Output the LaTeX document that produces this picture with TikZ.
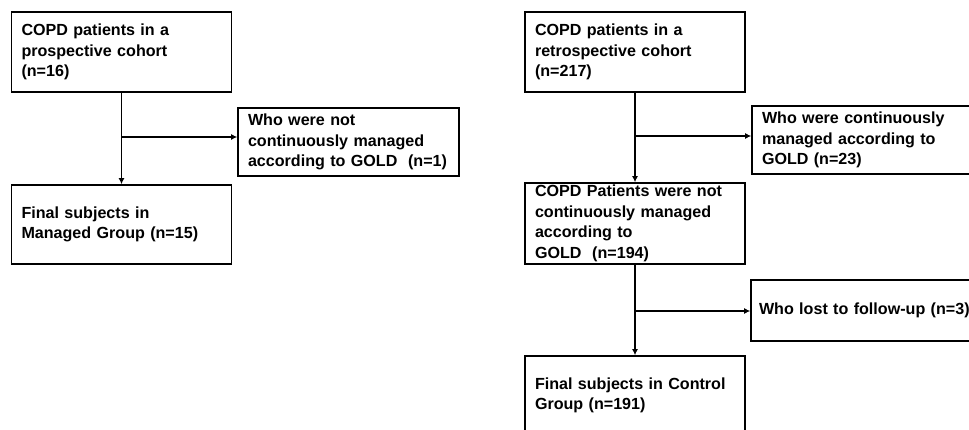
\documentclass[tikz,border=0pt]{standalone}
\usepackage{fontspec}
\setmainfont{Liberation Sans}
\usepackage{xcolor}
\usepackage{tikz}
\usetikzlibrary{calc,arrows.meta}
\tikzstyle{lefted} = [align=left, font=\bfseries\fontsize{16.1}{20.6}\selectfont]
\tikzstyle{tbox} = [lefted, draw, rectangle, line width=1.6pt, inner xsep=10pt, inner ysep=0pt]
\tikzset{
  % edge styles
  flow/.style={draw, line width=1.6pt, -{Latex[length=6pt,width=6pt]}},
  % node styles
  mainbox/.style={tbox, text width=200pt, minimum height=80pt},
  sidebox/.style={tbox, text width=203pt, minimum height=68pt},
}

\begin{document}
\begin{tikzpicture}[x=1pt, y=-1pt]
        \useasboundingbox (0,0) rectangle (969,430);
        % Prospective cohort
        \node(P1)[mainbox] at (121.5,52) {COPD patients in a\\prospective cohort\\(n=16)};
        \node(P2)[sidebox, text width=201pt] at (348.5,142) {Who were not\\continuously managed\\\mbox{according to GOLD\ \ (n=1)}};
        \node(P3)[mainbox, minimum height=79pt] at (121.5,224.5) {Final subjects in\\Managed Group (n=15)};
        \coordinate(PX1) at (121.5,137);
        \draw[flow] (P1) -- (P3);
        \draw[flow] (PX1) -- (PX1 -| P2.west);
        % Retrospective cohort
        \node(R1)[mainbox] at (635,52) {COPD patients in a\\retrospective cohort\\(n=217)};
        \node(R2)[sidebox] at (863.5,140) {Who were continuously\\managed according to\\GOLD (n=23)};
        \node(R3)[mainbox, minimum height=81pt] at (635,223.5) {COPD Patients were not\\continuously managed\\according to\\GOLD\ \ (n=194)};
        \node(R4)[sidebox, inner xsep=8pt, text width=207pt, minimum height=61pt] at (862.5,310.5) {\mbox{Who lost to follow-up (n=3)}};
        \node(R5)[mainbox, minimum height=79pt] at (635,395.5) {Final subjects in Control\\Group (n=191)};
        \coordinate(RX1) at (635,136);
        \coordinate(RX2) at (635,311);
        \draw[flow] (R1) -- (R3);
        \draw[flow] (RX1) -- (RX1 -| R2.west);
        \draw[flow] (R3) -- (R5);
        \draw[flow] (RX2) -- (RX2 -| R4.west);
\end{tikzpicture}
\end{document}
